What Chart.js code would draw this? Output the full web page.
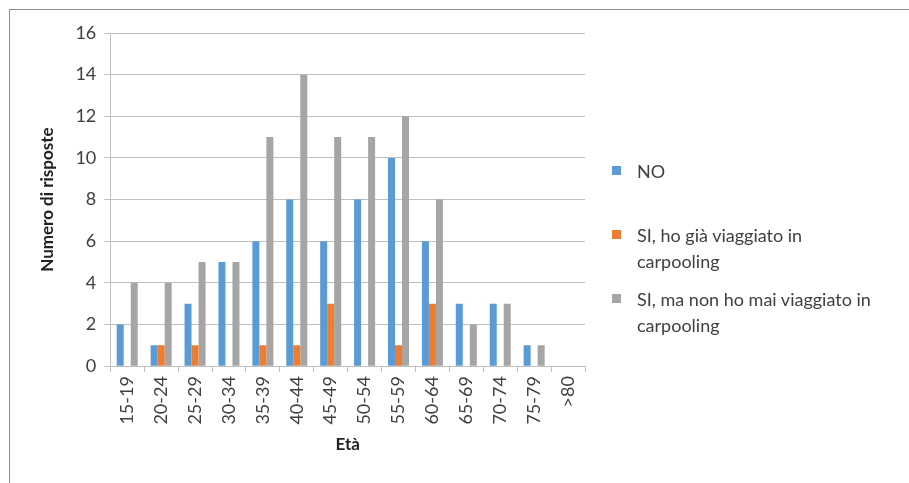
<!DOCTYPE html>
<html>
<head>
    <meta charset="utf-8">
    <title>Carpooling per età</title>
    <style>
        body {
            margin: 0;
            background: #fff;
            font-family: Lato, sans-serif;
        }
        .frame {
            position: absolute;
            left: 9px;
            top: 9px;
            width: 920px;
            height: 500px;
            border-top: 1px solid #8c8c8c;
            border-left: 1px solid #8c8c8c;
        }
        .wrap {
            position: absolute;
            left: 0;
            top: 0;
            width: 909px;
            height: 483px;
        }
        #legend {
            position: absolute;
            left: 612px;
            top: 158px;
            width: 296px;
            font-size: 18px;
            color: #404040;
            line-height: 26px;
        }
        #legend .item {
            position: relative;
            padding-left: 25px;
        }
        #legend .box {
            position: absolute;
            left: 0;
            top: 8px;
            width: 9px;
            height: 9px;
        }
    </style>
</head>
<body>
    <div class="frame"></div>
    <div class="wrap"><canvas id="chart"></canvas></div>
    <div id="legend"></div>

    <script src="https://cdn.jsdelivr.net/npm/chart.js"></script>
    <script>
        const ageGroups = ['15-19', '20-24', '25-29', '30-34', '35-39', '40-44', '45-49',
                           '50-54', '55-59', '60-64', '65-69', '70-74', '75-79', '>80'];
        const seriesNames = ['NO', 'SI, ho già viaggiato in carpooling', 'SI, ma non ho mai viaggiato in carpooling'];
        const noValues = [2, 1, 3, 5, 6, 8, 6, 8, 10, 6, 3, 3, 1, 0];
        const siGiaValues = [0, 1, 1, 0, 1, 1, 3, 0, 1, 3, 0, 0, 0, 0];
        const siMaiValues = [4, 4, 5, 5, 11, 14, 11, 11, 12, 8, 2, 3, 1, 0];
        const colors = ['#5b9bd5', '#ed7d31', '#a5a5a5'];
        // legend layout like the original: gap before each entry and text wrap width
        const legendGaps = [0, 38, 12];
        const legendWidths = [200, 200, 268];

        const tickFont = { family: 'Lato', size: 18 };
        const titleFont = { family: 'Lato', size: 17, weight: 'bold' };

        const datasets = [noValues, siGiaValues, siMaiValues].map((vals, i) => ({
            label: seriesNames[i],
            data: vals,
            backgroundColor: colors[i],
            borderWidth: 0,
            categoryPercentage: 0.62,
            barPercentage: 1.0
        }));

        const ctx = document.getElementById('chart').getContext('2d');
        const chart = new Chart(ctx, {
            type: 'bar',
            data: { labels: ageGroups, datasets: datasets },
            options: {
                responsive: true,
                maintainAspectRatio: false,
                animation: false,
                layout: { padding: { left: 33, right: 324, top: 33, bottom: 24 } },
                plugins: {
                    legend: { display: false },
                    tooltip: { enabled: false }
                },
                scales: {
                    x: {
                        offset: true,
                        grid: {
                            offset: true,
                            drawOnChartArea: false,
                            color: '#bfbfbf',
                            tickLength: 6
                        },
                        border: { color: '#bfbfbf' },
                        ticks: {
                            font: tickFont,
                            color: '#404040',
                            minRotation: 90,
                            maxRotation: 90,
                            padding: 4
                        },
                        title: {
                            display: true,
                            text: 'Età',
                            font: titleFont,
                            color: '#222',
                            padding: { top: 6 }
                        }
                    },
                    y: {
                        min: 0,
                        max: 16,
                        ticks: {
                            stepSize: 2,
                            font: tickFont,
                            color: '#404040',
                            padding: 8
                        },
                        grid: { color: '#bfbfbf', tickLength: 6 },
                        border: { color: '#bfbfbf' },
                        title: {
                            display: true,
                            text: 'Numero di risposte',
                            font: titleFont,
                            color: '#222',
                            padding: { bottom: 10 }
                        }
                    }
                }
            }
        });

        // legend on the right, wrapped text like the original
        const legendEl = document.getElementById('legend');
        chart.data.datasets.forEach((ds, i) => {
            const item = document.createElement('div');
            item.className = 'item';
            item.style.marginTop = legendGaps[i] + 'px';
            item.style.width = legendWidths[i] + 'px';
            const box = document.createElement('span');
            box.className = 'box';
            box.style.background = ds.backgroundColor;
            item.appendChild(box);
            item.appendChild(document.createTextNode(ds.label));
            legendEl.appendChild(item);
        });
    </script>
</body>
</html>
